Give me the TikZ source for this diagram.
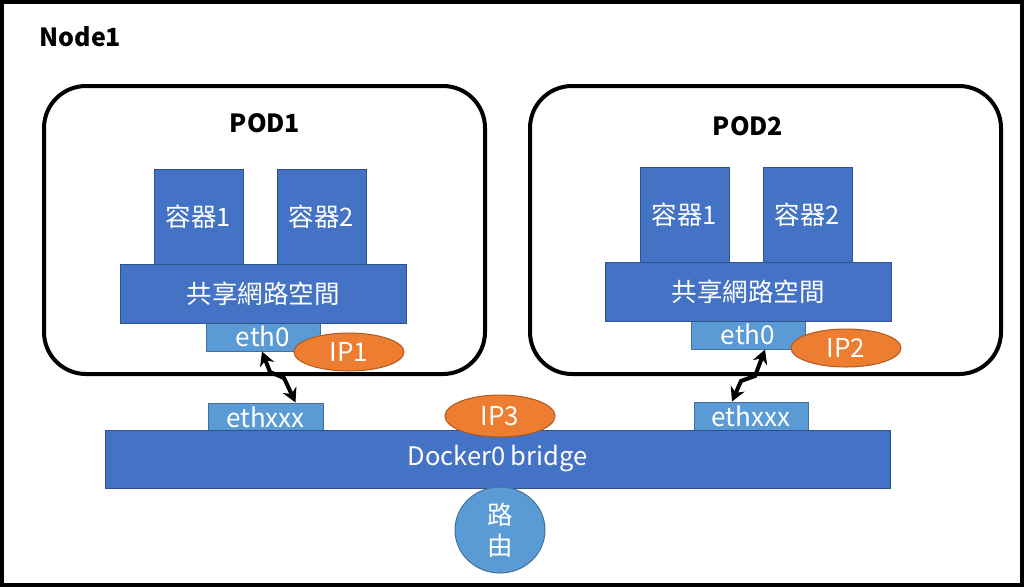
\documentclass[tikz,border=0pt]{standalone}
\usepackage{fontspec}
\setmainfont{Noto Sans CJK TC}
\usetikzlibrary{arrows.meta,shapes.geometric}
\definecolor{boxblue}{HTML}{4472C4}
\definecolor{boxblueline}{HTML}{2F528F}
\definecolor{ethblue}{HTML}{5B9BD5}
\definecolor{ethblueline}{HTML}{41719C}
\definecolor{iporange}{HTML}{ED7D31}
\definecolor{iporangeline}{HTML}{AE5A21}
\tikzset{
  podframe/.style={draw,line width=4pt,rounded corners=42pt,inner sep=0pt},
  container/.style={draw=boxblueline,fill=boxblue,line width=1pt,inner sep=0pt,
    text=white,font=\fontsize{25.5}{30}\selectfont},
  ethport/.style={draw=ethblueline,fill=ethblue,line width=1pt,inner sep=0pt,
    text=white,font=\fontsize{26}{30}\selectfont},
  ipaddr/.style={ellipse,draw=iporangeline,fill=iporange,line width=1pt,inner sep=0pt,
    text=white,font=\fontsize{26}{30}\selectfont,minimum width=110pt,minimum height=38pt},
  veth/.style={line width=4pt,{Stealth[length=14pt,width=15pt]}-{Stealth[length=14pt,width=15pt]}},
  title/.style={font=\bfseries\fontsize{25}{30}\selectfont}
}

\begin{document}
\begin{tikzpicture}[x=1pt,y=-1pt]
\useasboundingbox (0,0) rectangle (1024,587);
\draw[line width=4pt] (2,2) rectangle (1022,585);
\node[title,anchor=west] (node1) at (36,37) {Node1};

% pods
\node[podframe,minimum width=441pt,minimum height=288pt] (pod1) at (264.5,230) {};
\node[podframe,minimum width=471pt,minimum height=288pt] (pod2) at (765.5,230) {};
\node[title] (pod1t) at (265,123) {POD1};
\node[title] (pod2t) at (748,126) {POD2};

\node[container,minimum width=89pt,minimum height=96pt] (c11) at (198.5,217) {容器1};
\node[container,minimum width=89pt,minimum height=96pt] (c12) at (321.5,217) {容器2};
\node[ethport,minimum width=114pt,minimum height=30pt] (eth1) at (263,336) {eth0};
\node[container,minimum width=286pt,minimum height=59pt] (net1) at (263,293.5) {共享網路空間};
\node[ipaddr] (ip1) at (349,352) {IP1};

\node[container,minimum width=89pt,minimum height=95pt] (c21) at (684.5,214.5) {容器1};
\node[container,minimum width=89pt,minimum height=95pt] (c22) at (807.5,214.5) {容器2};
\node[ethport,minimum width=114pt,minimum height=30pt] (eth2) at (748,334) {eth0};
\node[container,minimum width=286pt,minimum height=59pt] (net2) at (748,291.5) {共享網路空間};
\node[ipaddr] (ip2) at (846,348) {IP2};

% bridge
\node[ethport,minimum width=115pt,minimum height=28pt] (ethx1) at (265.5,417) {ethxxx};
\node[ethport,minimum width=114pt,minimum height=28pt] (ethx2) at (751,416) {ethxxx};
\node[container,minimum width=785pt,minimum height=58pt] (docker) at (497.5,459) {Docker0 bridge};
\node[ipaddr,minimum height=42pt] (ip3) at (500,416) {IP3};
\node[ellipse,draw=ethblueline,fill=ethblue,line width=1pt,inner sep=0pt,
  minimum width=90pt,minimum height=86pt,text=white,align=center,
  font=\fontsize{25.5}{31}\selectfont] (route) at (500,530) {路\\由};

\draw[veth] ([xshift=-1pt]eth1.south) -- (270,372) -- (284,378) -- ([xshift=30pt]ethx1.north);
\draw[veth] ([xshift=-19pt]ethx2.north) -- (741,381) -- (755,376) -- ([xshift=17pt]eth2.south);
\end{tikzpicture}
\end{document}
